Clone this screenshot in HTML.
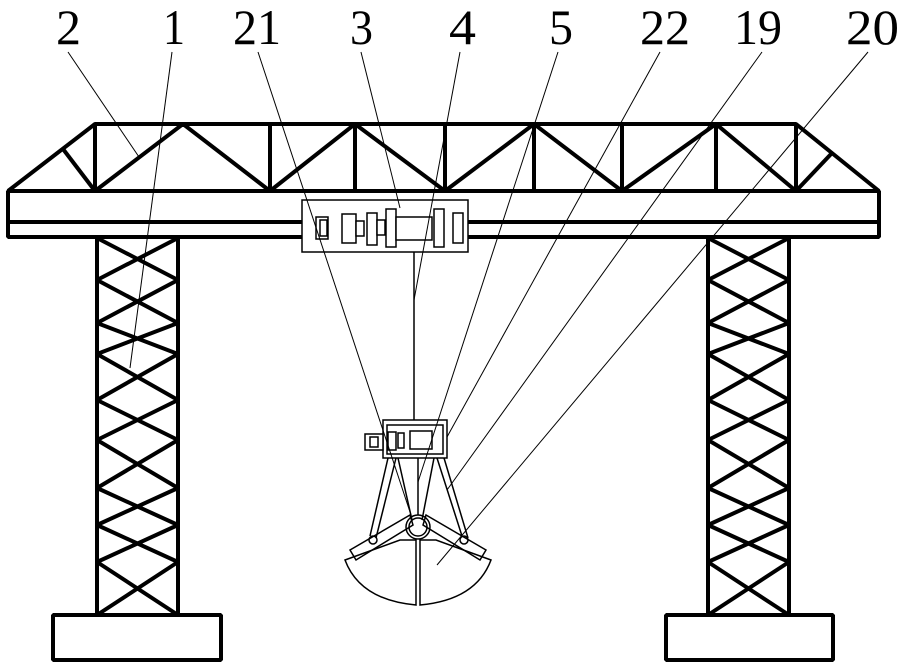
<!DOCTYPE html>
<html><head><meta charset="utf-8"><style>html,body{margin:0;padding:0;background:#fff}svg{display:block}</style></head>
<body>
<svg width="904" height="669" viewBox="0 0 904 669" xmlns="http://www.w3.org/2000/svg">
<g font-family="Liberation Serif, serif" font-size="50" fill="#000">
<text x="56" y="44" textLength="25" lengthAdjust="spacingAndGlyphs">2</text>
<text x="163" y="44" textLength="22" lengthAdjust="spacingAndGlyphs">1</text>
<text x="233" y="44" textLength="48" lengthAdjust="spacingAndGlyphs">21</text>
<text x="350" y="44" textLength="23" lengthAdjust="spacingAndGlyphs">3</text>
<text x="449" y="44" textLength="27" lengthAdjust="spacingAndGlyphs">4</text>
<text x="549" y="44" textLength="24" lengthAdjust="spacingAndGlyphs">5</text>
<text x="640" y="44" textLength="50" lengthAdjust="spacingAndGlyphs">22</text>
<text x="734" y="44" textLength="48" lengthAdjust="spacingAndGlyphs">19</text>
<text x="846" y="44" textLength="53" lengthAdjust="spacingAndGlyphs">20</text>
</g>
<g stroke="#000" fill="none" stroke-width="4" stroke-linejoin="bevel">
<polyline points="8,191 95,124 796,124 879,191"/>
<line x1="95" y1="124" x2="95" y2="191"/>
<line x1="63" y1="149" x2="95" y2="191"/>
<polyline points="95,191 183,124 270,191 355,124 445,191 534,124 622,191 716,124 796,191"/>
<line x1="270" y1="124" x2="270" y2="191"/>
<line x1="355" y1="124" x2="355" y2="191"/>
<line x1="445" y1="124" x2="445" y2="191"/>
<line x1="534" y1="124" x2="534" y2="191"/>
<line x1="622" y1="124" x2="622" y2="191"/>
<line x1="716" y1="124" x2="716" y2="191"/>
<line x1="796" y1="124" x2="796" y2="191"/>
<line x1="796" y1="191" x2="832" y2="153"/>
<rect x="8" y="191" width="871" height="46"/>
<line x1="8" y1="222" x2="879" y2="222"/>
<line x1="97" y1="237" x2="97" y2="615"/>
<line x1="178" y1="237" x2="178" y2="615"/>
<polyline points="97,238 178,280 97,323 178,354 97,400 178,440 97,488 178,525 97,562 178,615"/>
<polyline points="178,238 97,280 178,323 97,354 178,400 97,440 178,488 97,525 178,562 97,615"/>
<rect x="53" y="615" width="168" height="45"/>
<line x1="708" y1="237" x2="708" y2="615"/>
<line x1="789" y1="237" x2="789" y2="615"/>
<polyline points="708,238 789,280 708,323 789,354 708,400 789,440 708,488 789,525 708,562 789,615"/>
<polyline points="789,238 708,280 789,323 708,354 789,400 708,440 789,488 708,525 789,562 708,615"/>
<rect x="666" y="615" width="167" height="45"/>
</g>
<g stroke="#000" fill="#fff" stroke-width="1.5">
<rect x="302" y="200" width="166" height="52"/>
<rect x="316" y="217" width="12" height="22"/>
<rect x="320" y="220" width="7" height="16"/>
<rect x="342" y="214" width="14" height="29"/>
<rect x="356" y="221" width="8" height="15"/>
<rect x="367" y="213" width="10" height="32"/>
<rect x="377" y="220" width="8" height="15"/>
<rect x="386" y="209" width="10" height="38"/>
<rect x="396" y="217" width="36" height="23"/>
<rect x="434" y="209" width="10" height="38"/>
<rect x="453" y="213" width="10" height="30"/>
</g>
<g stroke="#000" fill="none" stroke-width="1.5">
<line x1="414" y1="252" x2="414" y2="420"/>
<rect x="383" y="420" width="64" height="38" fill="#fff"/>
<rect x="387" y="425" width="56" height="29"/>
<rect x="365" y="434" width="18" height="16" fill="#fff"/>
<rect x="370" y="437" width="8" height="10"/>
<rect x="388" y="432" width="8" height="18"/>
<rect x="398" y="433" width="6" height="15"/>
<rect x="410" y="431" width="22" height="18"/>
<line x1="418" y1="458" x2="418" y2="515"/>
<line x1="388" y1="458" x2="370" y2="536"/>
<line x1="396" y1="458" x2="376" y2="538"/>
<line x1="437" y1="458" x2="462" y2="536"/>
<line x1="444" y1="458" x2="468" y2="538"/>
<line x1="398" y1="458" x2="412" y2="520"/>
<line x1="434" y1="458" x2="422" y2="520"/>
<circle cx="418" cy="527" r="12"/>
<circle cx="418" cy="527" r="9"/>
<polygon points="350,550 410,515 413,525 356,560"/>
<polygon points="486,550 426,515 423,525 480,560"/>
<circle cx="373" cy="540" r="4"/>
<circle cx="464" cy="540" r="4"/>
<path d="M345,560 L400,540 L416,540 L416,605 Q360,600 345,560 Z"/>
<path d="M491,560 L436,540 L420,540 L420,605 Q476,600 491,560 Z"/>
</g>
<g stroke="#000" stroke-width="1" fill="none">
<line x1="68" y1="52" x2="139" y2="157"/>
<line x1="172" y1="52" x2="130" y2="368"/>
<line x1="258" y1="52" x2="411" y2="515"/>
<line x1="361" y1="52" x2="400" y2="208"/>
<line x1="460" y1="52" x2="414" y2="300"/>
<line x1="558" y1="52" x2="418" y2="482"/>
<line x1="660" y1="52" x2="447" y2="437"/>
<line x1="762" y1="52" x2="447" y2="490"/>
<line x1="868" y1="52" x2="437" y2="565"/>
</g>
</svg>
</body></html>
